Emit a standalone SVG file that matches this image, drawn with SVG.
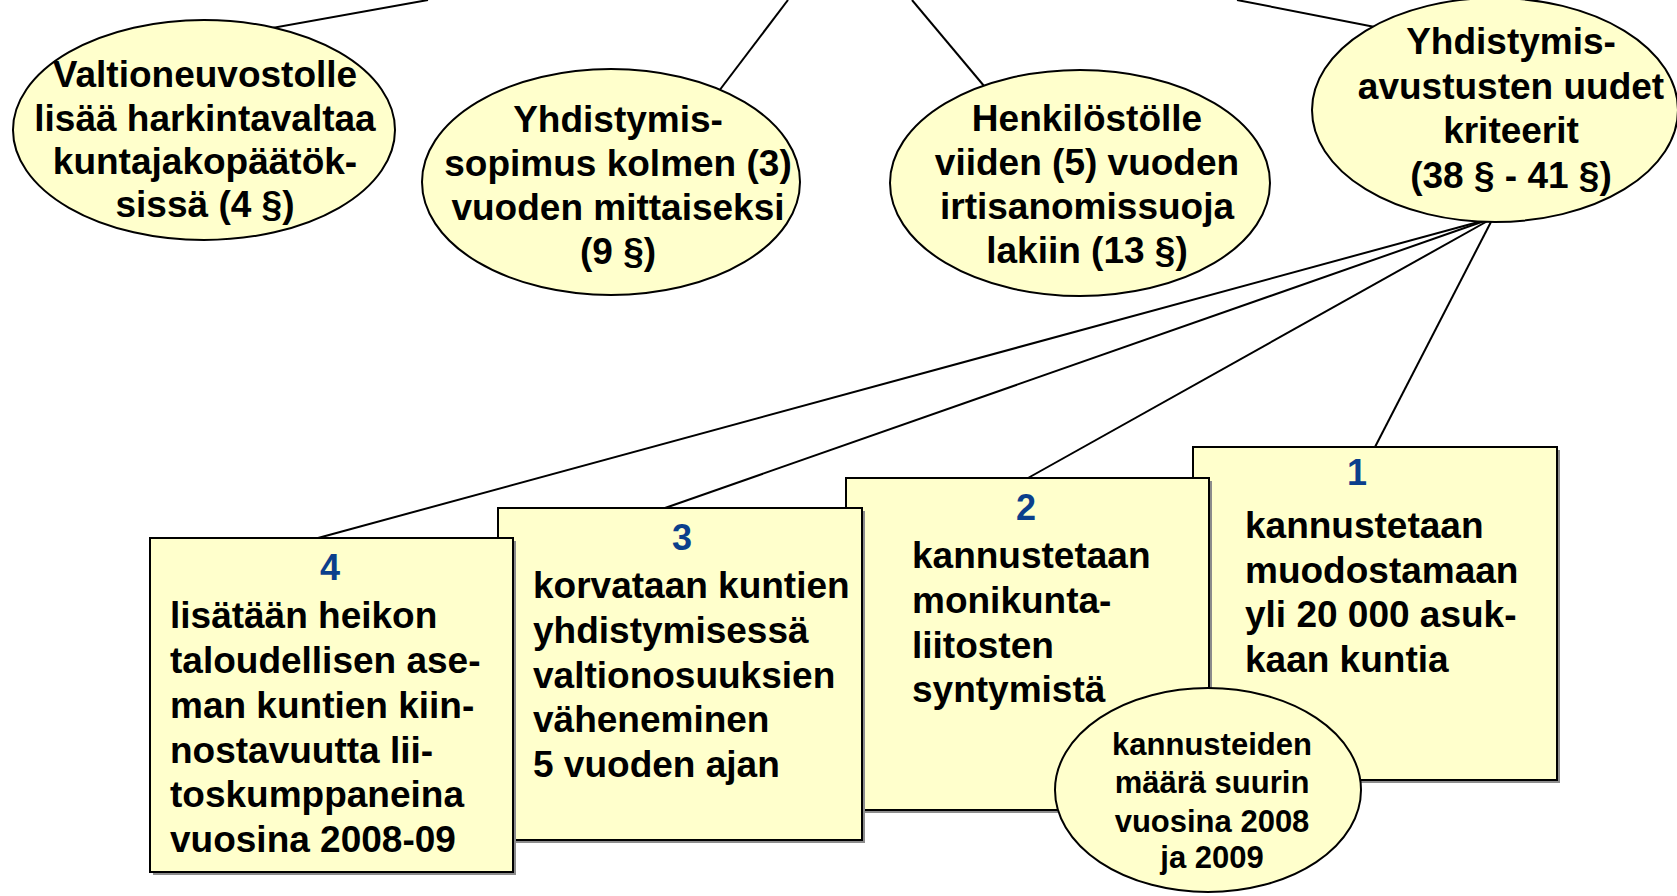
<svg xmlns="http://www.w3.org/2000/svg" width="1677" height="896" viewBox="0 0 1677 896">
<style>
.bg{fill:#ffffff}
.conn line{stroke:#000;stroke-width:2}
.ell{fill:#FFFFCC;stroke:#000;stroke-width:2}
.box{fill:#FFFFCC;stroke:#000;stroke-width:2}
.shadow{fill:#8c8c8c}
.t{font-family:"Liberation Sans",Arial,sans-serif;font-weight:bold;font-size:37px;fill:#000}
.c{text-anchor:middle}
.num{font-family:"Liberation Sans",Arial,sans-serif;font-weight:bold;font-size:36px;fill:#0B3F8C;text-anchor:middle}
.s{font-family:"Liberation Sans",Arial,sans-serif;font-weight:bold;font-size:31px;fill:#000;text-anchor:middle}
</style>
<rect class="bg" x="0" y="0" width="1677" height="896"/>
<g id="connectors" class="conn">
<line x1="428" y1="0" x2="250" y2="32"/>
<line x1="788" y1="0" x2="700" y2="116"/>
<line x1="912" y1="0" x2="1000" y2="105"/>
<line x1="1237" y1="0" x2="1380" y2="28"/>
<line x1="1493" y1="218" x2="318" y2="538"/>
<line x1="1493" y1="218" x2="665" y2="508"/>
<line x1="1493" y1="218" x2="1028" y2="478"/>
<line x1="1493" y1="218" x2="1375" y2="447"/>
</g>
<g id="e1">
<ellipse class="ell" cx="204" cy="130" rx="191" ry="110"/>
<text class="t c" x="205" y="87">Valtioneuvostolle</text>
<text class="t c" x="205" y="131">lisää harkintavaltaa</text>
<text class="t c" x="205" y="174">kuntajakopäätök-</text>
<text class="t c" x="205" y="217">sissä (4 §)</text>
</g>
<g id="e2">
<ellipse class="ell" cx="611" cy="182" rx="189" ry="113"/>
<text class="t c" x="618" y="132">Yhdistymis-</text>
<text class="t c" x="618" y="176">sopimus kolmen (3)</text>
<text class="t c" x="618" y="220">vuoden mittaiseksi</text>
<text class="t c" x="618" y="264">(9 §)</text>
</g>
<g id="e3">
<ellipse class="ell" cx="1080" cy="183" rx="190" ry="113"/>
<text class="t c" x="1087" y="131">Henkilöstölle</text>
<text class="t c" x="1087" y="175">viiden (5) vuoden</text>
<text class="t c" x="1087" y="219">irtisanomissuoja</text>
<text class="t c" x="1087" y="263">lakiin (13 §)</text>
</g>
<g id="e4">
<ellipse class="ell" cx="1495" cy="110" rx="183" ry="112"/>
<text class="t c" x="1511" y="54">Yhdistymis-</text>
<text class="t c" x="1511" y="99">avustusten uudet</text>
<text class="t c" x="1511" y="143">kriteerit</text>
<text class="t c" x="1511" y="188">(38 § - 41 §)</text>
</g>
<g id="b1">
<rect class="shadow" x="1196" y="450" width="364" height="333"/>
<rect class="box" x="1193" y="447" width="364" height="333"/>
<text class="num" x="1357" y="485">1</text>
<text class="t" x="1245" y="538">kannustetaan</text>
<text class="t" x="1245" y="583">muodostamaan</text>
<text class="t" x="1245" y="627">yli 20 000 asuk-</text>
<text class="t" x="1245" y="672">kaan kuntia</text>
</g>
<g id="b2">
<rect class="shadow" x="849" y="481" width="363" height="332"/>
<rect class="box" x="846" y="478" width="363" height="332"/>
<text class="num" x="1026" y="520">2</text>
<text class="t" x="912" y="568">kannustetaan</text>
<text class="t" x="912" y="613">monikunta-</text>
<text class="t" x="912" y="658">liitosten</text>
<text class="t" x="912" y="702">syntymistä</text>
</g>
<g id="b3">
<rect class="shadow" x="501" y="511" width="364" height="332"/>
<rect class="box" x="498" y="508" width="364" height="332"/>
<text class="num" x="682" y="550">3</text>
<text class="t" x="533" y="598">korvataan kuntien</text>
<text class="t" x="533" y="643">yhdistymisessä</text>
<text class="t" x="533" y="688">valtionosuuksien</text>
<text class="t" x="533" y="732">väheneminen</text>
<text class="t" x="533" y="777">5 vuoden ajan</text>
</g>
<g id="b4">
<rect class="shadow" x="153" y="541" width="363" height="334"/>
<rect class="box" x="150" y="538" width="363" height="334"/>
<text class="num" x="330" y="580">4</text>
<text class="t" x="170" y="628">lisätään heikon</text>
<text class="t" x="170" y="673">taloudellisen ase-</text>
<text class="t" x="170" y="718">man kuntien kiin-</text>
<text class="t" x="170" y="763">nostavuutta lii-</text>
<text class="t" x="170" y="807">toskumppaneina</text>
<text class="t" x="170" y="852">vuosina 2008-09</text>
</g>
<g id="e5">
<ellipse class="ell" cx="1208" cy="790" rx="153" ry="102"/>
<text class="s" x="1212" y="755">kannusteiden</text>
<text class="s" x="1212" y="793">määrä suurin</text>
<text class="s" x="1212" y="832">vuosina 2008</text>
<text class="s" x="1212" y="868">ja 2009</text>
</g>
</svg>
